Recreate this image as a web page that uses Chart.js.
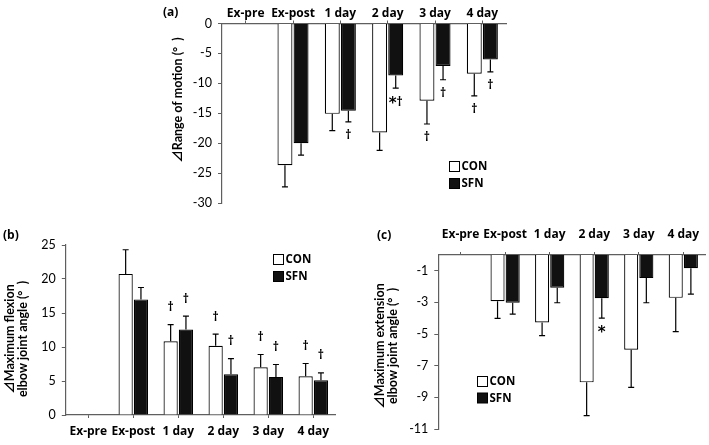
<!DOCTYPE html>
<html><head><meta charset="utf-8">
<script src="https://cdn.jsdelivr.net/npm/chart.js@4"></script>
<style>
html,body{margin:0;padding:0;background:#fff;}
#wrap{position:relative;width:709px;height:445px;overflow:hidden;background:#fff;}
.pane{position:absolute;}
</style></head><body>
<div id="wrap">
<div class="pane" style="left:150px;top:0;width:370px;height:225px"><canvas id="ca"></canvas></div>
<div class="pane" style="left:0;top:225px;width:345px;height:220px"><canvas id="cb"></canvas></div>
<div class="pane" style="left:355px;top:225px;width:354px;height:220px"><canvas id="cc"></canvas></div>
</div>
<script>
// ---- data ----
const categories = ['Ex-pre', 'Ex-post', '1 day', '2 day', '3 day', '4 day'];
const seriesNames = ['CON', 'SFN'];

// (a) Range of motion
const romCON    = [null, -23.7, -15.1, -18.2, -12.9, -8.4];
const romCONsd  = [null, 3.6, 2.8, 3.0, 3.9, 3.7];
const romCONmk  = ['', '', '', '', '†', '†'];
const romSFN    = [null, -20.0, -14.6, -8.7, -7.1, -6.0];
const romSFNsd  = [null, 2.0, 1.85, 2.1, 2.3, 2.1];
const romSFNmk  = ['', '', '†', '*†', '†', '†'];
const romTicks  = [0, -5, -10, -15, -20, -25, -30];
const romTitle  = ['⊿Range of motion (°  )'];

// (b) Maximum flexion elbow joint angle
const flexCON   = [null, 20.75, 10.85, 10.17, 7.03, 5.7];
const flexCONsd = [null, 3.55, 2.45, 1.71, 1.87, 1.87];
const flexCONmk = ['', '', '†', '†', '†', '†'];
const flexSFN   = [null, 17.0, 12.57, 6.0, 5.6, 5.12];
const flexSFNsd = [null, 1.75, 1.96, 2.3, 1.83, 1.08];
const flexSFNmk = ['', '', '†', '†', '†', '†'];
const flexTicks = [0, 5, 10, 15, 20, 25];
const flexTitle = ['⊿Maximum flexion', 'elbow joint angle (°  )'];

// (c) Maximum extension elbow joint angle
const extCON    = [null, -2.92, -4.26, -8.05, -5.99, -2.71];
const extCONsd  = [null, 1.09, 0.84, 2.11, 2.38, 2.14];
const extCONmk  = ['', '', '', '', '', ''];
const extSFN    = [null, -3.02, -2.07, -2.73, -1.46, -0.83];
const extSFNsd  = [null, 0.72, 0.95, 1.26, 1.56, 1.64];
const extSFNmk  = ['', '', '', '*', '', ''];
const extTicks  = [-1, -3, -5, -7, -9, -11];
const extTitle  = ['⊿Maximum extension', 'elbow joint angle (°  )'];

// ---- styling ----
const FONT = 'Lato, "DejaVu Sans", sans-serif';
const TFONT = 'Lato, "Noto Sans CJK JP", "DejaVu Sans", sans-serif';
const BFONT = '"Open Sans", "DejaVu Sans", sans-serif';
const AXIS = '#5f5f5f';
Chart.defaults.font.family = FONT;
Chart.defaults.color = '#000';
Chart.defaults.animation = false;

const extrasPlugin = {
  id: 'extras',
  afterDatasetsDraw(chart, args, o) {
    const ctx = chart.ctx, ys = chart.scales.y;
    chart.data.datasets.forEach((ds, i) => {
      const meta = chart.getDatasetMeta(i);
      meta.data.forEach((el, j) => {
        const v = ds.data[j], e = ds.sd[j];
        if (v == null || e == null) return;
        const s = v < 0 ? -1 : 1;
        const y0 = ys.getPixelForValue(v);
        const y1 = ys.getPixelForValue(v + s * e);
        ctx.save();
        ctx.strokeStyle = '#000'; ctx.lineWidth = 1.2;
        ctx.beginPath();
        ctx.moveTo(el.x, y0); ctx.lineTo(el.x, y1);
        ctx.moveTo(el.x - 3, y1); ctx.lineTo(el.x + 3, y1);
        ctx.stroke();
        const m = ds.marks[j];
        if (m) {
          const yc = y1 - s * o.markGap;
          const parts = m.split('').map(ch => ({ch,
            font: ch === '*' ? 'bold 15px "DejaVu Sans", sans-serif' : 'bold 12px ' + BFONT,
            dy: ch === '*' ? 2 : 0}));
          let tw = 0;
          parts.forEach(p => { ctx.font = p.font; p.w = ctx.measureText(p.ch).width; tw += p.w; });
          let x = el.x - tw / 2;
          ctx.fillStyle = '#000'; ctx.textAlign = 'left'; ctx.textBaseline = 'middle';
          parts.forEach(p => { ctx.font = p.font; ctx.fillText(p.ch, x, yc + p.dy); x += p.w; });
        }
        ctx.restore();
      });
    });
    ctx.save();
    // legend
    chart.data.datasets.forEach((ds, k) => {
      const x = o.legend.x, y = o.legend.y + k * o.legend.dy;
      ctx.fillStyle = ds.backgroundColor; ctx.strokeStyle = '#000'; ctx.lineWidth = 1;
      ctx.fillRect(x + 0.5, y + 0.5, 10, 10); ctx.strokeRect(x + 0.5, y + 0.5, 10, 10);
      ctx.fillStyle = '#000'; ctx.font = 'bold 11.5px ' + BFONT;
      ctx.textAlign = 'left'; ctx.textBaseline = 'middle';
      ctx.fillText(ds.label, x + 12.5, y + 6);
    });
    // panel label
    ctx.fillStyle = '#000';
    ctx.font = 'bold 12px ' + BFONT; ctx.textAlign = 'left'; ctx.textBaseline = 'middle';
    ctx.fillText(o.panel.text, o.panel.x, o.panel.y);
    // y-axis title
    const t = o.ytitle;
    ctx.font = 'bold 12.5px ' + TFONT; ctx.textAlign = 'center';
    t.lines.forEach((line, k) => {
      ctx.save();
      ctx.translate(t.x + k * t.lh, t.y);
      ctx.rotate(-Math.PI / 2);
      ctx.fillText(line, 0, 0);
      ctx.restore();
    });
    ctx.restore();
  }
};

function makeChart(id, p) {
  return new Chart(document.getElementById(id), {
    type: 'bar',
    data: {
      labels: categories,
      datasets: [
        {label: seriesNames[0], data: p.con, sd: p.conSd, marks: p.conMk,
         backgroundColor: '#ffffff', borderColor: '#000', borderWidth: 1.2},
        {label: seriesNames[1], data: p.sfn, sd: p.sfnSd, marks: p.sfnMk,
         backgroundColor: '#111111', borderColor: '#000', borderWidth: 1.2}
      ]
    },
    plugins: [extrasPlugin],
    options: {
      responsive: false,
      maintainAspectRatio: false,
      devicePixelRatio: 1,
      animation: false,
      categoryPercentage: 0.68,
      barPercentage: 0.93,
      layout: {padding: p.pad},
      plugins: {
        legend: {display: false},
        tooltip: {enabled: false},
        extras: {markGap: p.markGap, legend: p.legend, panel: p.panel, ytitle: p.ytitle}
      },
      scales: {
        x: {
          position: p.xPos,
          offset: true,
          grid: {display: true, drawOnChartArea: false, drawTicks: true, tickLength: 3, offset: false, color: AXIS, lineWidth: 1},
          border: {display: true, color: AXIS, width: 1.2},
          ticks: {font: {family: BFONT, size: 12, weight: 'bold'}, padding: p.xPad, maxRotation: 0, autoSkip: false},
          afterFit: s => { s.height = p.xH; }
        },
        y: {
          min: p.min, max: p.max,
          afterBuildTicks: ax => { ax.ticks = p.ticks.map(v => ({value: v})); },
          grid: {display: true, drawOnChartArea: false, drawTicks: true, tickLength: 4, color: AXIS, lineWidth: 1},
          border: {display: true, color: AXIS, width: 1.2},
          ticks: {font: {size: 12.5}, padding: 6},
          title: {display: false},
          afterFit: s => { s.width = p.yW; }
        }
      }
    }
  });
}

function sizeCanvas(id, w, h) { const c = document.getElementById(id); c.width = w; c.height = h; c.style.width = w + 'px'; c.style.height = h + 'px'; }
sizeCanvas('ca', 370, 225);
sizeCanvas('cb', 345, 220);
sizeCanvas('cc', 354, 220);

makeChart('ca', {
  con: romCON, conSd: romCONsd, conMk: romCONmk,
  sfn: romSFN, sfnSd: romSFNsd, sfnMk: romSFNmk,
  min: -30, max: 0, ticks: romTicks,
  ytitle: {lines: romTitle, x: 28, y: 100, lh: 13.5},
  xPos: 'top', xH: 23.5, xPad: 0, yW: 72,
  pad: {left: 0, right: 14, top: 0, bottom: 22},
  markGap: 14,
  legend: {x: 299, y: 161, dy: 17},
  panel: {text: '(a)', x: 13, y: 13}
});

makeChart('cb', {
  con: flexCON, conSd: flexCONsd, conMk: flexCONmk,
  sfn: flexSFN, sfnSd: flexSFNsd, sfnMk: flexSFNmk,
  min: 0, max: 25, ticks: flexTicks,
  ytitle: {lines: flexTitle, x: 9.5, y: 114, lh: 13.5},
  xPos: 'bottom', xH: 30, xPad: 6.5, yW: 65.8,
  pad: {left: 0, right: 9.2, top: 20, bottom: 0},
  markGap: 17,
  legend: {x: 273, y: 29, dy: 17},
  panel: {text: '(b)', x: 3, y: 11}
});

makeChart('cc', {
  con: extCON, conSd: extCONsd, conMk: extCONmk,
  sfn: extSFN, sfnSd: extSFNsd, sfnMk: extSFNmk,
  min: -11, max: 0, ticks: extTicks,
  ytitle: {lines: extTitle, x: 25, y: 121, lh: 13},
  xPos: 'top', xH: 30, xPad: 9.8, yW: 83.3,
  pad: {left: 0, right: 0.8, top: 0, bottom: 16},
  markGap: 13,
  legend: {x: 122, y: 151, dy: 16.5},
  panel: {text: '(c)', x: 22, y: 11}
});
</script>
</body></html>
